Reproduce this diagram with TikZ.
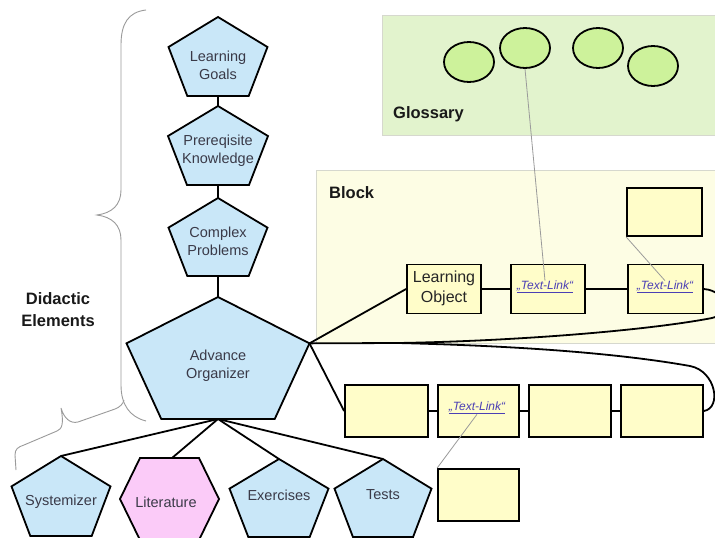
\documentclass[tikz,border=0pt]{standalone}
\usepackage{fontspec}
\setmainfont{Liberation Sans}
\usetikzlibrary{shapes.geometric,calc}
\definecolor{pentblue}{HTML}{C9E7F8}
\definecolor{hexpink}{HTML}{FBCBF8}
\definecolor{boxyel}{HTML}{FFFDC9}
\definecolor{blockbg}{HTML}{FDFDE4}
\definecolor{glossbg}{HTML}{E2F3CD}
\definecolor{ellgreen}{HTML}{CDF29B}
\definecolor{txtgray}{HTML}{3A3A48}
\definecolor{linkblue}{HTML}{4B3FB5}
\definecolor{framegray}{HTML}{D6D8CE}
\definecolor{bracegray}{HTML}{9A9A9A}
\tikzset{
  shapeline/.style={draw=black, line width=1.8pt, line join=miter},
  pent/.style={shapeline, fill=pentblue},
  hexa/.style={shapeline, fill=hexpink},
  ybox/.style={draw=black, line width=1.8pt, fill=boxyel, rectangle, inner sep=0pt},
  gell/.style={draw=black, line width=1.8pt, fill=ellgreen, ellipse, minimum width=50pt, minimum height=40pt, inner sep=0pt},
  conn/.style={draw=black, line width=1.8pt},
  glink/.style={draw=bracegray, line width=0.8pt},
  bracepath/.style={draw=bracegray, line width=0.9pt},
  elabel/.style={text=txtgray, font=\fontsize{14.5}{18}\selectfont, align=center, inner sep=0pt},
  lolabel/.style={text=black!85, font=\fontsize{16}{20}\selectfont, align=center, inner sep=0pt},
  heading/.style={font=\bfseries\fontsize{16.5}{22}\selectfont, text=black!90, inner sep=0pt, align=center},
  tlink/.style={text=linkblue, font=\itshape\fontsize{12}{14}\selectfont, inner sep=0pt},
  region/.style={draw=framegray, line width=1pt},
}
% #1 name, #2 cx, #3 top, #4 width, #5 height, #6 text y, #7 text
\newcommand\pentshape[7]{%
  \draw[pent] (#2,#3) -- ({#2+0.5*#4},{#3+0.38*#5}) -- ({#2+0.31*#4},{#3+#5})
     -- ({#2-0.31*#4},{#3+#5}) -- ({#2-0.5*#4},{#3+0.38*#5}) -- cycle;
  \coordinate (#1-top) at (#2,#3);
  \coordinate (#1-bot) at (#2,{#3+#5});
  \coordinate (#1-right) at ({#2+0.5*#4},{#3+0.38*#5});
  \node[elabel] (#1) at (#2,#6) {#7};
}
\begin{document}
\begin{tikzpicture}[x=1pt,y=-1pt]
\useasboundingbox (0,0) rectangle (715,538);
\fill[white] (0,0) rectangle (715,538);
\clip (0,0) rectangle (715,538);

% regions
\filldraw[region, fill=glossbg] (382,15) rectangle (720,135);
\filldraw[region, fill=blockbg] (316,170) rectangle (720,343);
\node[heading, anchor=base west] (glosslbl) at (393,118) {Glossary};
\node[heading, anchor=base west] (blocklbl) at (329,198) {Block};
\node[heading] (didactic) at (58,310) {Didactic\\Elements};

% braces
\draw[bracepath] (146,10) .. controls (128,12) and (121,24) .. (121,45) -- (121,190)
  .. controls (121,205) and (112,213) .. (97,215)
  .. controls (112,217) and (121,225) .. (121,240) -- (121,385)
  .. controls (121,405) and (130,417) .. (146,421);
\draw[bracepath] (16,470) -- (15,455) .. controls (15,449) and (18,447) .. (24,445)
  -- (57,431) .. controls (62,429) and (64,424) .. (61,408)
  .. controls (64,418) and (70,424) .. (78,422) -- (115,409)
  .. controls (120,407) and (123,404) .. (124,400);

% pentagons
\pentshape{lg}{218}{17}{99}{79}{65}{Learning\\Goals}
\pentshape{pk}{218}{106}{100}{79}{151}{Prereqisite\\Knowledge}
\pentshape{cp}{218}{198}{99}{78}{241}{Complex\\Problems}
\pentshape{ao}{218}{297}{183}{122}{366}{Advance\\Organizer}
\pentshape{sy}{61}{456}{99}{80}{502}{Systemizer}
\pentshape{ex}{279}{459}{99}{78}{495}{Exercises}
\pentshape{te}{383}{459}{97}{78}{495}{Tests}

% hexagon
\draw[hexa] (140,458) -- (199,458) -- (219,499) -- (199,540) -- (140,540) -- (120,499) -- cycle;
\coordinate (lit-top) at (172,458);
\node[elabel] (lit) at (166,502) {Literature};

% glossary ellipses
\node[gell] (e1) at (469,62) {};
\node[gell] (e2) at (525,48) {};
\node[gell] (e3) at (598,48) {};
\node[gell] (e4) at (653,66) {};

% block boxes
\node[ybox, minimum width=74pt, minimum height=49pt] (lo) at (444,289) {};
\node[lolabel] (lotext) at (444,288) {Learning\\Object};
\node[ybox, minimum width=74pt, minimum height=49pt] (tl1) at (548,289) {};
\node[tlink] (tl1t) at (545,287) {\underline{„Text-Link“}};
\node[ybox, minimum width=75pt, minimum height=49pt] (tl2) at (665.5,289) {};
\node[tlink] (tl2t) at (665,287) {\underline{„Text-Link“}};
\node[ybox, minimum width=75pt, minimum height=48pt] (tl3) at (664.5,212) {};

% lower row
\node[ybox, minimum width=83pt, minimum height=52pt] (b1) at (386.5,411) {};
\node[ybox, minimum width=81pt, minimum height=52pt] (b2) at (478.5,411) {};
\node[tlink] (b2t) at (477,408) {\underline{„Text-Link“}};
\node[ybox, minimum width=82pt, minimum height=52pt] (b3) at (570,411) {};
\node[ybox, minimum width=82pt, minimum height=52pt] (b4) at (662,411) {};
\node[ybox, minimum width=81pt, minimum height=52pt] (b5) at (478.5,495) {};

% connectors in the didactic chain
\draw[conn] (lg-bot) -- (pk-top);
\draw[conn] (pk-bot) -- (cp-top);
\draw[conn] (cp-bot) -- (ao-top);
\draw[conn] (ao-bot) -- (sy-top);
\draw[conn] (ao-bot) -- (lit-top);
\draw[conn] (ao-bot) -- (ex-top);
\draw[conn] (ao-bot) -- (te-top);

% connectors to the blocks
\coordinate (split) at (398,343);
\draw[conn] (ao-right) -- (lo.west);
\draw[conn] (ao-right) -- (b1.west);
\draw[conn] (lo) -- (tl1);
\draw[conn] (tl1) -- (tl2);
\draw[conn] (b1) -- (b2);
\draw[conn] (b2) -- (b3);
\draw[conn] (b3) -- (b4);
\draw[conn] (ao-right) -- (split) .. controls (520,341) and (650,330) .. (712,318)
   .. controls (727,315) and (728,291) .. (tl2.east);
\draw[conn] (split) .. controls (480,345) and (600,350) .. (690,366)
   .. controls (716,371) and (722,408) .. (b4.east);

% thin link lines
\draw[glink] (e2.south) -- (tl1t.north);
\draw[glink] (tl3.south west) -- (tl2t.north);
\draw[glink] (b2t.south) -- (b5.north west);
\end{tikzpicture}
\end{document}
